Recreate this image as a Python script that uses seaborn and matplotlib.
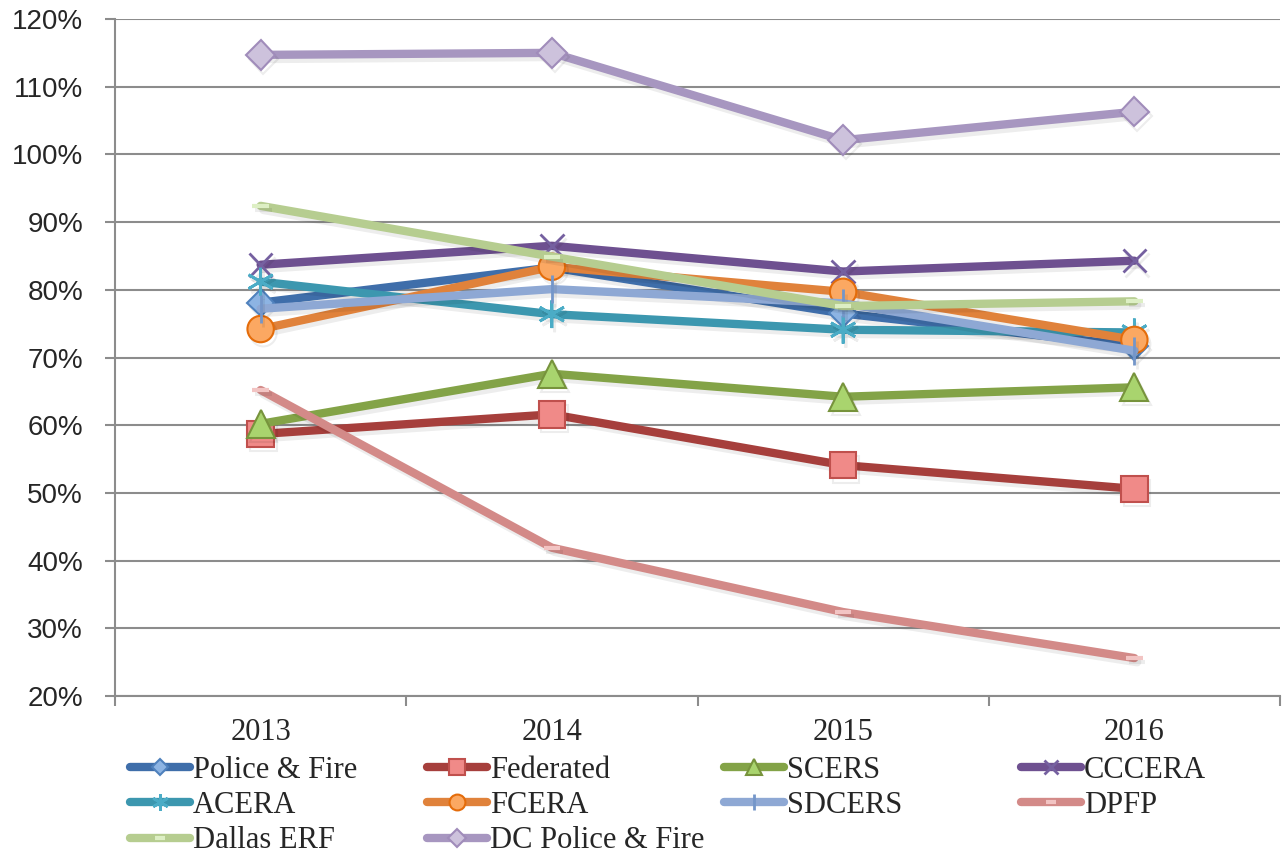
import matplotlib
matplotlib.use("Agg")
import matplotlib.pyplot as plt
import matplotlib.patheffects as pe
from matplotlib.ticker import FuncFormatter, FixedLocator
import seaborn as sns

years = ["2013", "2014", "2015", "2016"]

police_fire = [0.781, 0.833, 0.765, 0.717]
federated = [0.587, 0.616, 0.541, 0.506]
scers = [0.602, 0.676, 0.642, 0.656]
cccera = [0.837, 0.865, 0.827, 0.843]
acera = [0.812, 0.764, 0.741, 0.737]
fcera = [0.742, 0.834, 0.797, 0.726]
sdcers = [0.772, 0.801, 0.780, 0.710]
dpfp = [0.652, 0.419, 0.324, 0.256]
dallas_erf = [0.924, 0.849, 0.776, 0.783]
dc_police_fire = [1.147, 1.150, 1.021, 1.063]

names = ["Police & Fire", "Federated", "SCERS", "CCCERA", "ACERA", "FCERA",
         "SDCERS", "DPFP", "Dallas ERF", "DC Police & Fire"]
series = [police_fire, federated, scers, cccera, acera, fcera, sdcers, dpfp,
          dallas_erf, dc_police_fire]

sns.set_theme(style="white")
plt.rcParams["font.family"] = ["Liberation Serif", "DejaVu Serif"]

styles = {
    "Police & Fire": dict(color="#3F6EAA", marker="D", ms=14, mfc="#8DB4E3", mec="#4F81BD", mew=1.5),
    "Federated": dict(color="#A63F3C", marker="s", ms=19, mfc="#F08A88", mec="#C0504D", mew=1.5),
    "SCERS": dict(color="#83A347", marker="^", ms=20, mfc="#A9D46E", mec="#77933C", mew=1.5),
    "CCCERA": dict(color="#6E5090", marker="x", ms=17, mfc="#7560A0", mec="#7560A0", mew=2),
    "ACERA": dict(color="#3C97AF", marker=(6, 2, 0), ms=20, mfc="#4BACC6", mec="#4BACC6", mew=2),
    "FCERA": dict(color="#E0823B", marker="o", ms=19, mfc="#FBA862", mec="#E46C0A", mew=1.5),
    "SDCERS": dict(color="#8EA8D4", marker="|", ms=20, mfc="#7496C9", mec="#7496C9", mew=2),
    "DPFP": dict(color="#D38A88", marker="_", ms=12, mfc="#F2C4C3", mec="#F2C4C3", mew=3),
    "Dallas ERF": dict(color="#B6CD90", marker="_", ms=12, mfc="#DDEFC4", mec="#DDEFC4", mew=3),
    "DC Police & Fire": dict(color="#A796C0", marker="D", ms=15, mfc="#CDC2DC", mec="#A08CBA", mew=1.5),
}

fig = plt.figure(figsize=(12.85, 8.58), dpi=100)
ax = fig.add_axes([115 / 1285, 1 - 696 / 858, (1280 - 115) / 1285, (696 - 19) / 858])

xpos = list(range(len(years)))
shadow = [pe.SimpleLineShadow(offset=(2, -3), shadow_color="#000000", alpha=0.07), pe.Normal()]
handles = []
for name, vals in zip(names, series):
    st = styles[name]
    sns.lineplot(x=xpos, y=vals, ax=ax, color=st["color"], linewidth=6,
                 marker=st["marker"], markersize=st["ms"], markerfacecolor=st["mfc"],
                 markeredgecolor=st["mec"], markeredgewidth=st["mew"],
                 label=name, legend=False, solid_capstyle="round", path_effects=shadow)
    handles.append(ax.lines[-1])

ax.set_xlim(-0.5, len(years) - 0.5)
ax.set_ylim(0.2, 1.2)
ax.set_yticks([0.2 + 0.1 * i for i in range(11)])
ax.yaxis.set_major_formatter(FuncFormatter(lambda v, p: f"{v * 100:.0f}%"))
ax.set_xticks(xpos)
ax.set_xticklabels(years)
ax.xaxis.set_minor_locator(FixedLocator([i - 0.5 for i in range(len(years) + 1)]))
ax.tick_params(axis="x", which="major", length=0, pad=16, labelsize=22)
ax.tick_params(axis="x", which="minor", length=7, width=1.5, color="#8C8C8C", direction="out", bottom=True)
ax.tick_params(axis="y", which="major", length=7, width=1.5, color="#8C8C8C", direction="out", left=True, pad=16)
for lab in ax.get_yticklabels():
    lab.set_fontfamily(["Liberation Sans", "DejaVu Sans"])
    lab.set_fontsize(20)
ax.grid(axis="y", color="#8C8C8C", linewidth=1.5)
ax.grid(axis="x", visible=False)
ax.set_axisbelow(True)
for side in ["top", "right"]:
    ax.spines[side].set_visible(False)
ax.spines["left"].set_color("#8C8C8C")
ax.spines["left"].set_linewidth(1.5)
ax.spines["bottom"].set_color("#8C8C8C")
ax.spines["bottom"].set_linewidth(1.5)
ax.set_xlabel("")
ax.set_ylabel("")

col_x = [130, 427, 724, 1021]
for c in range(4):
    hs = handles[c::4]
    legend = fig.legend(handles=hs, labels=[h.get_label() for h in hs], loc="upper left",
                        bbox_to_anchor=(col_x[c] / 1285, 1 - 756 / 858), frameon=False,
                        fontsize=22, handlelength=1.95, handletextpad=0.1, borderpad=0,
                        borderaxespad=0, labelspacing=0.2, markerscale=0.6)
    for line in legend.get_lines():
        line.set_path_effects([])

fig.savefig("out.png", dpi=100)
